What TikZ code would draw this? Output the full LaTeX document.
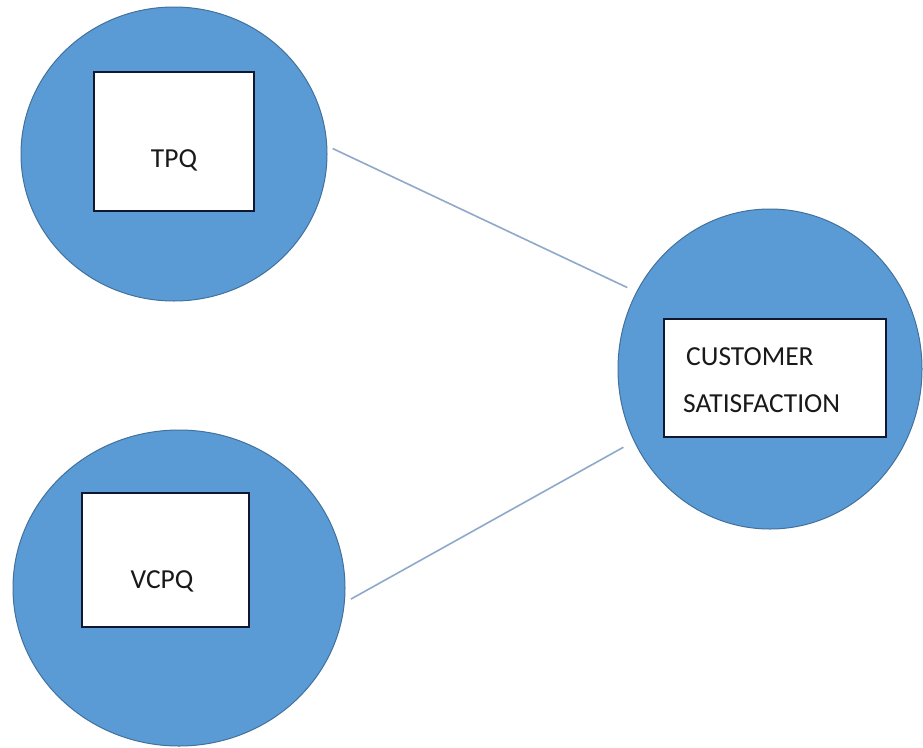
\documentclass[tikz,border=0pt]{standalone}
\usepackage{fontspec}
\setmainfont{Carlito}
\usetikzlibrary{shapes.geometric}
\definecolor{cfill}{HTML}{5B9BD5}
\definecolor{cedge}{HTML}{41719C}
\definecolor{clink}{HTML}{8EA9C9}
\definecolor{cbox}{HTML}{101830}
\tikzset{
  bubble/.style={ellipse, fill=cfill, draw=cedge, line width=1pt, inner sep=0pt},
  boxnode/.style={rectangle, fill=white, draw=cbox, line width=2pt, inner sep=0pt},
  lbl/.style={font=\fontsize{27.5}{47}\selectfont, inner sep=0pt, text=black!90},
  link/.style={draw=clink, line width=1.6pt}
}
\begin{document}
\begin{tikzpicture}[x=1pt, y=-1pt]
\useasboundingbox[fill=white] (0,0) rectangle (923,747);
% circles
\node[bubble, minimum width=306, minimum height=294] (c1) at (174,154) {};
\node[bubble, minimum width=332, minimum height=316] (c2) at (179,588) {};
\node[bubble, minimum width=304, minimum height=320] (c3) at (770,369) {};
% boxes
\node[boxnode, minimum width=160, minimum height=139] (tpqbox) at (174,141.5) {};
\node[boxnode, minimum width=167, minimum height=134] (vcpqbox) at (165.5,560) {};
\node[boxnode, minimum width=222, minimum height=118] (csbox) at (775,378) {};
% labels
\node[lbl, anchor=base] (tpq) at (174,167) {TPQ};
\node[lbl, anchor=base] (vcpq) at (162,588) {VCPQ};
\node[lbl, anchor=base west, align=left] (cs) at (683,412) {\hspace*{3pt}CUSTOMER\\SATISFACTION};
% connectors
\draw[link, shorten <=6pt, shorten >=10pt] (c1.3) -- (c3.150);
\draw[link, shorten <=7pt, shorten >=12pt] (c2.-5) -- (c3.208);
\end{tikzpicture}
\end{document}
